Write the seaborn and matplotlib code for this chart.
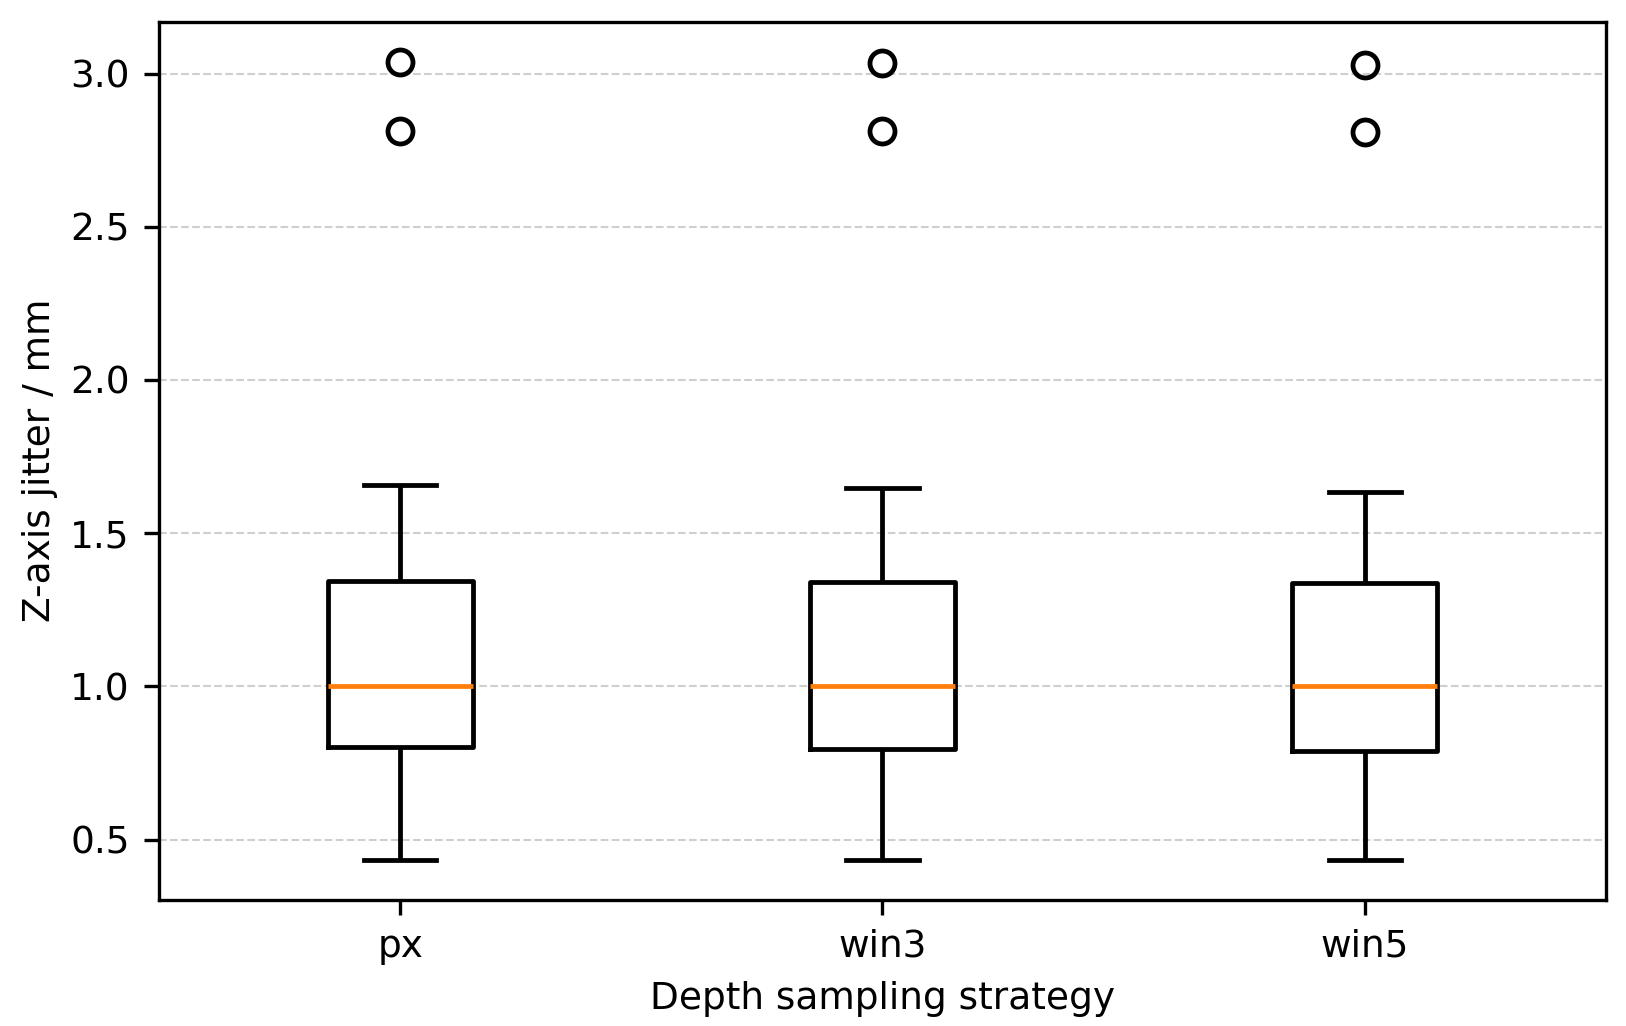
import pandas as pd
import matplotlib
matplotlib.use("Agg")
import matplotlib.pyplot as plt
import seaborn as sns

strategies = ["px", "win3", "win5"]
jitter_px = [0.435, 0.58, 0.70, 0.801, 0.87, 0.94, 1.00, 1.10, 1.22, 1.345, 1.656, 2.812, 3.038]
jitter_win3 = [0.435, 0.58, 0.70, 0.796, 0.87, 0.94, 1.00, 1.10, 1.22, 1.342, 1.649, 2.813, 3.035]
jitter_win5 = [0.435, 0.58, 0.70, 0.790, 0.87, 0.94, 1.00, 1.10, 1.22, 1.337, 1.636, 2.808, 3.029]


def build_frame():
    rows = []
    for name, vals in zip(strategies, [jitter_px, jitter_win3, jitter_win5]):
        for v in vals:
            rows.append({"strategy": name, "jitter": v})
    return pd.DataFrame(rows)


df = build_frame()

plt.rcParams["font.size"] = 9

fig = plt.figure(figsize=(1627 / 300, 1026 / 300), dpi=300)
ax = fig.add_axes([159 / 1627, 1 - 899.5 / 1026, (1606 - 159) / 1627, (899.5 - 22) / 1026])

sns.boxplot(
    data=df, x="strategy", y="jitter", order=strategies,
    width=0.3, fill=False, color="black", linewidth=1.15,
    medianprops=dict(color="#ff7f0e", linewidth=1.15),
    flierprops=dict(marker="o", markersize=6, markerfacecolor="none",
                    markeredgecolor="black", markeredgewidth=1.15),
    ax=ax,
)

ax.set_xlim(-0.5, 2.5)
ax.set_xlabel("Depth sampling strategy")
ax.set_ylabel("Z-axis jitter / mm", labelpad=3)
ax.yaxis.grid(True, linestyle="--", linewidth=0.5, color="#b0b0b0", alpha=0.6)
ax.set_axisbelow(True)

fig.savefig("out.png", dpi=300)
